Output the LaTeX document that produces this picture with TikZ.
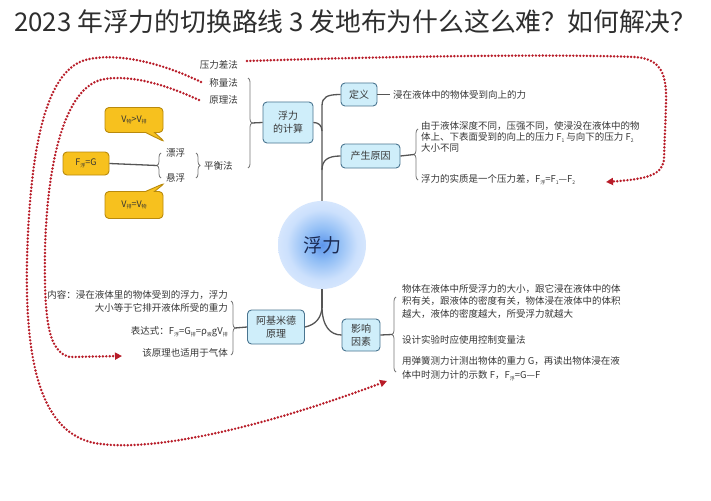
\documentclass[tikz,border=0pt]{standalone}
\usepackage{fontspec}
\setmainfont{Noto Sans CJK SC}
\usetikzlibrary{decorations.pathreplacing,shapes.callouts,arrows.meta}
\definecolor{boxfill}{HTML}{CFEEFA}
\definecolor{boxdraw}{HTML}{4A7590}
\definecolor{linec}{HTML}{555555}
\definecolor{txt}{HTML}{383838}
\definecolor{goldfill}{HTML}{F7C11E}
\definecolor{golddraw}{HTML}{B98A0C}
\definecolor{reddot}{HTML}{B81C28}
\definecolor{navy}{HTML}{1B2A52}
\definecolor{titlec}{HTML}{2E2E2E}
\newcommand\dn[1]{\raisebox{-0.35ex}{\fontsize{5}{5}\selectfont #1}}
\pgfdeclareradialshading{ballfade}{\pgfpoint{0bp}{0bp}}{rgb(0bp)=(0.36,0.58,0.92); rgb(9bp)=(0.56,0.74,0.96); rgb(20bp)=(0.80,0.88,0.99); rgb(36bp)=(0.92,0.95,1); rgb(50bp)=(0.98,0.99,1)}
\begin{document}
\begin{tikzpicture}[x=1pt,y=-1pt,
  every node/.style={inner sep=0pt, text=txt},
  mbox/.style={draw=boxdraw, fill=boxfill, rounded corners=4pt, line width=0.9pt, align=center, font=\fontsize{10}{13}\selectfont},
  gbox/.style={draw=golddraw, fill=goldfill, rounded corners=4pt, line width=0.9pt, font=\fontsize{9}{10}\selectfont, text=black!80},
  ln/.style={draw=linec, line width=1.3pt},
  br/.style={draw=linec!80, line width=0.8pt, decorate, decoration={brace, amplitude=4pt}},
  sm/.style={font=\fontsize{9.5}{12}\selectfont},
  reddash/.style={draw=reddot, line width=2.7pt, line cap=round, dash pattern=on 0pt off 3.4pt, -{Triangle[length=7pt,width=7pt]}},
]
\fill[white] (0,0) rectangle (711,500);
\useasboundingbox (0,0) rectangle (711,500);

% title
\node[anchor=west, font=\fontsize{25.8}{26}\selectfont, text=titlec] (title) at (14,22) {2023 年浮力的切换路线 3 发地布为什么这么难？如何解决？};

% main boxes
\node[mbox, minimum width=50pt, minimum height=41pt] (calc) at (288,122.5) {浮力\\的计算};
\node[mbox, minimum width=36pt, minimum height=23pt] (def) at (359,94.5) {定义};
\node[mbox, minimum width=59pt, minimum height=24pt] (cause) at (370.5,156) {产生原因};
\node[mbox, minimum width=57pt, minimum height=34pt] (arch) at (276,327) {阿基米德\\原理};
\node[mbox, minimum width=38pt, minimum height=32pt] (infl) at (361,335) {影响\\因素};
\node[circle, minimum size=88pt, shade, shading=ballfade, font=\fontsize{19}{19}\selectfont, text=navy] (core) at (322,245) {浮力};

% trunk connectors
\draw[ln] (def.west) .. controls (327,94.5) and (322,97) .. (322,106) -- (core.north);
\draw[ln] (calc.east) .. controls (318,122.5) and (322,125) .. (322,131);
\draw[ln] (cause.west) .. controls (328,156) and (322,160) .. (322,170);
\draw[ln] (core.south) -- (322,308);
\draw[ln] (322,306) .. controls (322,318) and (315,325) .. (arch.east);
\draw[ln] (322,306) .. controls (322,326) and (330,335) .. (infl.west);

% definition
\draw[ln] (def.east) -- (390,94.5);
\node[sm, anchor=west] (deft) at (393,95) {浸在液体中的物体受到向上的力};

% cause
\draw[br] (418,180) -- (418,129);
\draw[ln] (cause.east) -- (414,154.5);
\node[sm, anchor=north west, align=left, font=\fontsize{9.5}{11.3}\selectfont] (caus1) at (421,121) {由于液体深度不同，压强不同，使浸没在液体中的物\\体上、下表面受到的向上的压力 F\dn{1} 与向下的压力 F\dn{2}\\大小不同};
\node[sm, anchor=west] (caus2) at (421,180) {浮力的实质是一个压力差，F\dn{浮}=F\dn{1}—F\dn{2}};

% calculation methods
\node[sm, anchor=east] (m1) at (238,65) {压力差法};
\node[sm, anchor=east] (m2) at (238,83) {称量法};
\node[sm, anchor=east] (m3) at (238,100) {原理法};
\node[sm, anchor=west] (m4) at (204,166) {平衡法};
\node[sm, anchor=west] (p1) at (166,153) {漂浮};
\node[sm, anchor=west] (p2) at (166,178) {悬浮};
\draw[br] (248,78) -- (248,168);
\draw[ln] (252,123) -- (calc.west);
\draw[br] (196,153) -- (196,178);
\draw[br] (161,178) -- (161,153);

% yellow
\node[gbox, minimum width=46pt, minimum height=23pt] (fg) at (86,163.5) {F\dn{浮}=G};
\draw[ln] (fg.east) -- (157,165.5);
\node[gbox, rectangle callout, callout absolute pointer={(165,142)}, callout pointer width=9pt, minimum width=58pt, minimum height=25pt] (c1) at (134,120) {V\dn{物}>V\dn{排}};
\node[gbox, rectangle callout, callout absolute pointer={(165,183)}, callout pointer width=9pt, minimum width=58pt, minimum height=27pt] (c2) at (134,205) {V\dn{排}=V\dn{物}};

% archimedes
\node[sm, anchor=east] (a1) at (228,295) {内容：浸在液体里的物体受到的浮力，浮力};
\node[sm, anchor=east] (a2) at (228,308) {大小等于它排开液体所受的重力};
\node[sm, anchor=east] (a3) at (228,332) {表达式：F\dn{浮}=G\dn{排}=ρ\dn{液}gV\dn{排}};
\node[sm, anchor=east] (a4) at (228,353) {该原理也适用于气体};
\draw[br] (231,301) -- (231,355);
\draw[ln] (235,328) -- (arch.west);

% influence
\draw[br] (396,372) -- (396,297);
\draw[ln] (infl.east) -- (392,334.5);
\node[sm, anchor=north west, align=left, font=\fontsize{9.5}{12.5}\selectfont] (i1) at (402,284) {物体在液体中所受浮力的大小，跟它浸在液体中的体\\积有关，跟液体的密度有关，物体浸在液体中的体积\\越大，液体的密度越大，所受浮力就越大};
\node[sm, anchor=west] (i2) at (402,340) {设计实验时应使用控制变量法};
\node[sm, anchor=north west, align=left, font=\fontsize{9.5}{14}\selectfont] (i3) at (402,356) {用弹簧测力计测出物体的重力 G，再读出物体浸在液\\体中时测力计的示数 F，F\dn{浮}=G—F};

% red dotted arrows
\coordinate (r0) at (247,61);
\coordinate (r1) at (606,182);
\draw[reddash] (r0) .. controls (400,56) and (560,54) .. (635,57) .. controls (662,59) and (667,75) .. (666,105) -- (664,158) .. controls (663,175) and (648,179) .. (r1);
\coordinate (s0) at (201,82);
\coordinate (s1) at (387,381);
\draw[reddash] (s0) .. controls (160,62) and (115,52) .. (85,60) .. controls (45,72) and (30,150) .. (27,260) .. controls (25,360) and (40,428) .. (90,442) .. controls (140,454) and (250,432) .. (s1);
\coordinate (u0) at (199,100);
\coordinate (u1) at (122,356);
\draw[reddash] (u0) .. controls (160,82) and (125,74) .. (100,80) .. controls (62,92) and (47,170) .. (45,250) .. controls (44,320) and (48,352) .. (70,357) -- (u1);
\end{tikzpicture}
\end{document}
